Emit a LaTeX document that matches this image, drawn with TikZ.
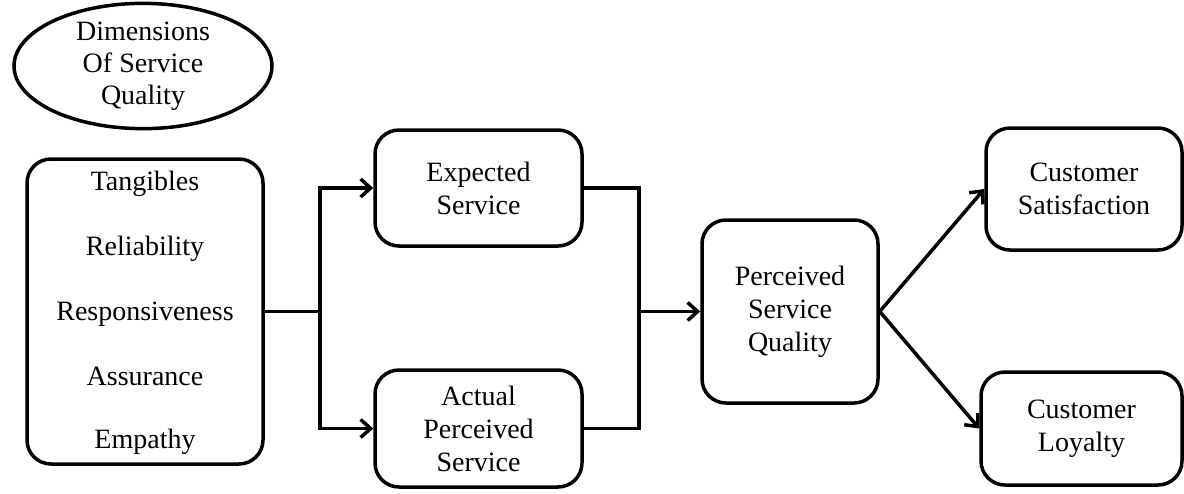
\documentclass[tikz,border=0pt]{standalone}
\usepackage{fontspec}
\setmainfont{Liberation Serif}
\usetikzlibrary{arrows.meta,shapes.geometric}
\begin{document}
\begin{tikzpicture}[x=1pt,y=-1pt,line width=3.5pt,
  box/.style={draw,rounded corners=24pt,align=center,inner sep=0pt,
    font=\fontsize{28}{33}\selectfont},
  oval/.style={draw,ellipse,align=center,inner sep=0pt,
    font=\fontsize{28}{32}\selectfont},
  item/.style={anchor=base,font=\fontsize{28}{33}\selectfont},
  arr/.style={-{Straight Barb[length=10pt,width=18pt,line width=3.5pt]}}]
\useasboundingbox (0,0) rectangle (1184,493);

\node[oval,minimum width=258pt,minimum height=117pt] (dim) at (143,66)
  {Dimensions\\Of Service\\Quality};

\node[box,minimum width=236pt,minimum height=305pt] (left) at (145,311.5) {};
\node[item] (t1) at (145,190) {Tangibles};
\node[item] (t2) at (145,255) {Reliability};
\node[item] (t3) at (145,320) {Responsiveness};
\node[item] (t4) at (145,385) {Assurance};
\node[item] (t5) at (145,448) {Empathy};

\node[box,minimum width=207pt,minimum height=116pt] (exp) at (478.5,188)
  {Expected\\Service};
\node[box,minimum width=207pt,minimum height=117pt] (act) at (478.5,428.5)
  {Actual\\Perceived\\Service};
\node[box,minimum width=176pt,minimum height=183pt] (perc) at (790,311.5)
  {Perceived\\Service\\Quality};
\node[box,minimum width=196pt,minimum height=122pt] (sat) at (1084,189)
  {Customer\\Satisfaction};
\node[box,minimum width=201pt,minimum height=113pt] (loy) at (1081.5,428.5)
  {Customer\\Loyalty};

\coordinate (j1) at (320,311.5);
\coordinate (j2) at (639,311.5);
\draw (left.east) -- (j1);
\draw[arr] (j1) |- (exp.west);
\draw[arr] (j1) |- (act.west);
\draw (exp.east) -| (j2) |- (act.east);
\draw[arr] (j2) -- (perc.west);
\draw[arr] (perc.east) -- (sat.west);
\draw[arr] (perc.east) -- (loy.west);
\end{tikzpicture}
\end{document}
